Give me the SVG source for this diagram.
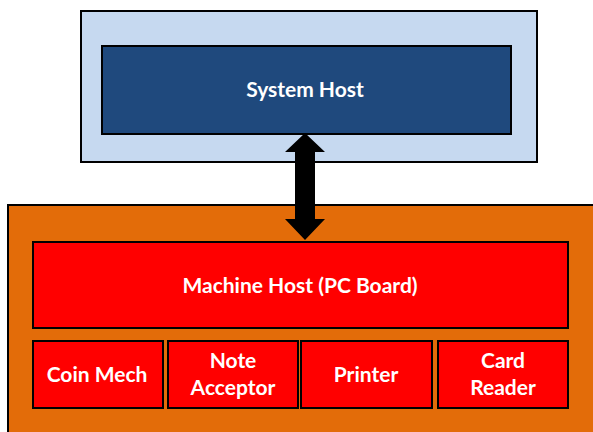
<svg xmlns="http://www.w3.org/2000/svg" width="593" height="432" viewBox="0 0 593 432">
<style>
.box{stroke:#000;stroke-width:2}
.t{font-family:Lato,"Open Sans","Liberation Sans",sans-serif;font-weight:700;font-size:21px;fill:#fff;text-anchor:middle}
.red{fill:#FF0000}
</style>
<rect width="593" height="432" fill="#fff"/>
<g id="system-container"><rect class="box" x="81" y="11" width="456" height="151" fill="#C6D9F0"/></g>
<g id="system-host"><rect class="box" x="102" y="46" width="409" height="88" fill="#1F497D"/><text class="t" x="305" y="97">System Host</text></g>
<g id="machine-container"><rect class="box" x="8" y="205" width="590" height="235" fill="#E36C09"/></g>
<g id="machine-host"><rect class="box red" x="33" y="242" width="535" height="86"/><text class="t" x="300" y="293">Machine Host (PC Board)</text></g>
<g id="coin-mech"><rect class="box red" x="33" y="341" width="130" height="67"/><text class="t" x="97" y="382">Coin Mech</text></g>
<g id="note-acceptor"><rect class="box red" x="168" y="341" width="130" height="67"/><text class="t" x="233" y="368">Note</text><text class="t" x="233" y="395">Acceptor</text></g>
<g id="printer"><rect class="box red" x="301" y="341" width="131" height="67"/><text class="t" x="366" y="382">Printer</text></g>
<g id="card-reader"><rect class="box red" x="438" y="341" width="130" height="67"/><text class="t" x="503" y="368">Card</text><text class="t" x="503" y="395">Reader</text></g>
<g id="connectors"><polygon points="305,133 325,152 315,152 315,219 325,219 305,240 285,219 295,219 295,152 285,152" fill="#000"/></g>
</svg>
